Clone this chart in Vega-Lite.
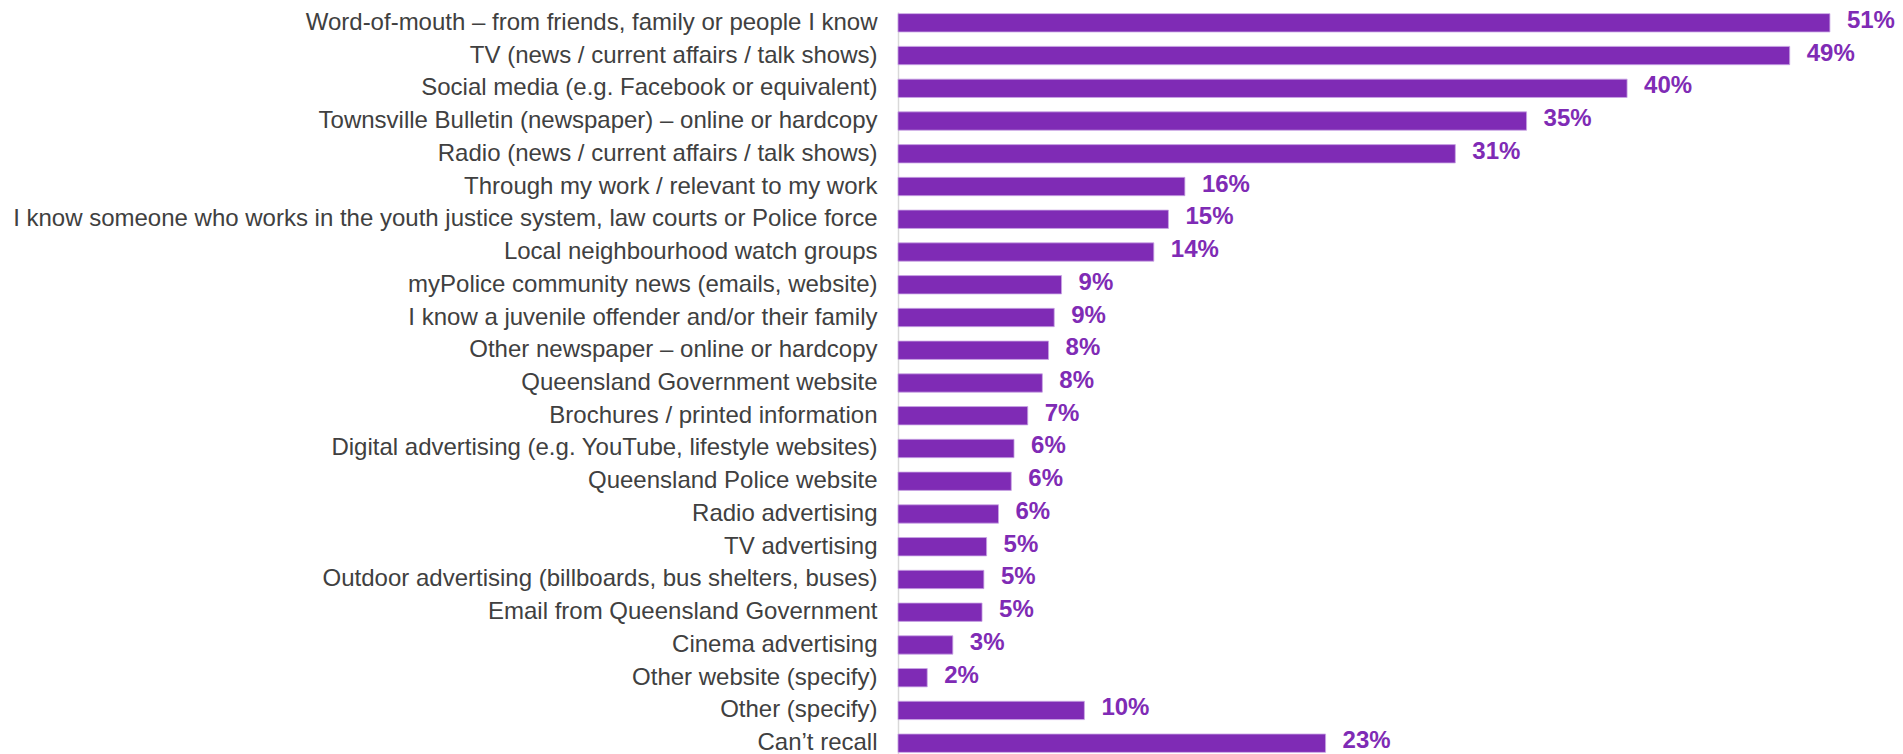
{
  "$schema": "https://vega.github.io/schema/vega-lite/v6.json",
  "width": 1005,
  "height": 742,
  "autosize": {"type": "none"},
  "padding": {"left": 898, "top": 12, "right": 0, "bottom": 0},
  "background": "white",
  "config": {"view": {"stroke": null}, "font": "Liberation Sans"},
  "data": {"values": [
    {"source": "Word-of-mouth – from friends, family or people I know", "pct": 51.0, "label": "51%"},
    {"source": "TV (news / current affairs / talk shows)", "pct": 48.8, "label": "49%"},
    {"source": "Social media (e.g. Facebook or equivalent)", "pct": 39.9, "label": "40%"},
    {"source": "Townsville Bulletin (newspaper) – online or hardcopy", "pct": 34.4, "label": "35%"},
    {"source": "Radio (news / current affairs / talk shows)", "pct": 30.5, "label": "31%"},
    {"source": "Through my work / relevant to my work", "pct": 15.7, "label": "16%"},
    {"source": "I know someone who works in the youth justice system, law courts or Police force", "pct": 14.8, "label": "15%"},
    {"source": "Local neighbourhood watch groups", "pct": 14.0, "label": "14%"},
    {"source": "myPolice community news (emails, website)", "pct": 8.95, "label": "9%"},
    {"source": "I know a juvenile offender and/or their family", "pct": 8.55, "label": "9%"},
    {"source": "Other newspaper – online or hardcopy", "pct": 8.24, "label": "8%"},
    {"source": "Queensland Government website", "pct": 7.9, "label": "8%"},
    {"source": "Brochures / printed information", "pct": 7.1, "label": "7%"},
    {"source": "Digital advertising (e.g. YouTube, lifestyle websites)", "pct": 6.35, "label": "6%"},
    {"source": "Queensland Police website", "pct": 6.2, "label": "6%"},
    {"source": "Radio advertising", "pct": 5.5, "label": "6%"},
    {"source": "TV advertising", "pct": 4.85, "label": "5%"},
    {"source": "Outdoor advertising (billboards, bus shelters, buses)", "pct": 4.7, "label": "5%"},
    {"source": "Email from Queensland Government", "pct": 4.6, "label": "5%"},
    {"source": "Cinema advertising", "pct": 3.0, "label": "3%"},
    {"source": "Other website (specify)", "pct": 1.6, "label": "2%"},
    {"source": "Other (specify)", "pct": 10.2, "label": "10%"},
    {"source": "Can’t recall", "pct": 23.4, "label": "23%"}
  ]},
  "encoding": {
    "y": {
      "field": "source", "type": "nominal", "sort": null, "title": null,
      "scale": {"paddingInner": 0.44, "paddingOuter": 0.05},
      "axis": {
        "ticks": false, "grid": false, "labelPadding": 21, "labelLimit": 0,
        "labelFontSize": 24, "labelColor": "#404040", "labelFont": "Liberation Sans",
        "domainColor": "#d9d9d9", "domainWidth": 1.5
      }
    },
    "x": {
      "field": "pct", "type": "quantitative", "title": null,
      "scale": {"domain": [0, 55], "nice": false, "zero": true},
      "axis": null
    }
  },
  "layer": [
    {"mark": {"type": "bar", "color": "#7F2BB5", "stroke": "#c9a6e4", "strokeWidth": 0.8}},
    {"mark": {"type": "text", "align": "left", "baseline": "middle", "dx": 17, "dy": -2, "fontSize": 24, "fontWeight": "bold", "color": "#7F2BB5", "font": "Liberation Sans"},
     "encoding": {"text": {"field": "label"}}}
  ]
}
